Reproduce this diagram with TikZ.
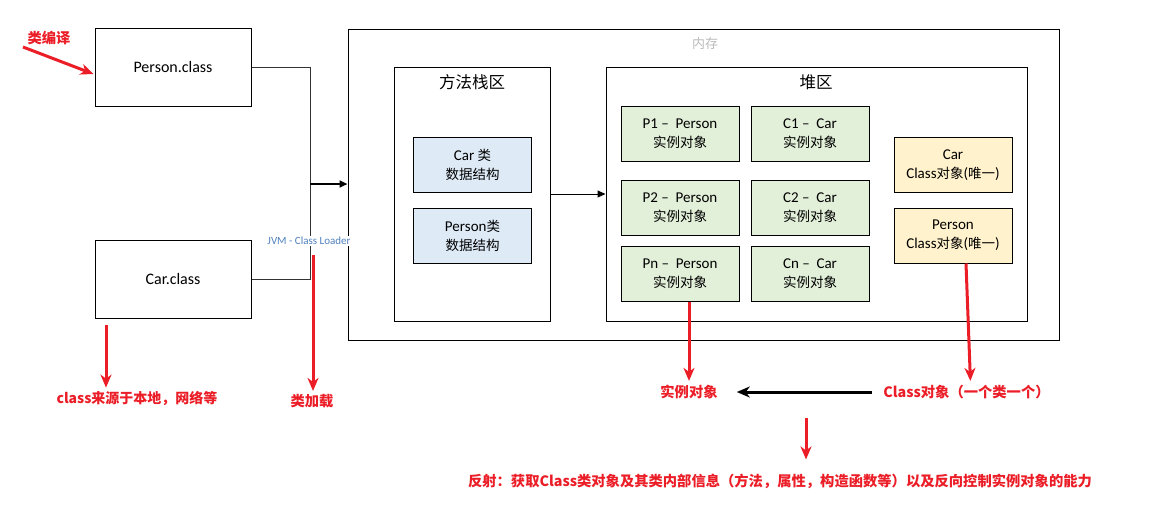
\documentclass[tikz,border=0pt]{standalone}
\usepackage{fontspec}
\setmainfont{Carlito}
\newfontfamily\cjk{Noto Sans CJK SC}
\newcommand\zh[1]{{\cjk\fontsize{13.5}{19}\selectfont #1}}
\usetikzlibrary{arrows.meta}
\definecolor{redc}{RGB}{235,30,40}
\definecolor{greenf}{RGB}{226,239,217}
\definecolor{bluef}{RGB}{222,235,247}
\definecolor{yellowf}{RGB}{255,242,204}
\definecolor{grayl}{RGB}{185,185,185}
\definecolor{jvmblue}{RGB}{79,129,189}
\tikzset{
  box/.style={draw=black, line width=1pt, inner sep=0pt, align=center},
  classfile/.style={box, minimum width=156pt, minimum height=78pt, font=\fontsize{16}{18}\selectfont},
  area/.style={box, minimum width=156pt, minimum height=254pt},
  small/.style={box, minimum width=118pt, minimum height=55pt, font=\fontsize{15}{19}\selectfont},
  inst/.style={small, fill=greenf},
  meta/.style={small, fill=bluef},
  clsobj/.style={small, fill=yellowf},
  title/.style={inner sep=0pt, font=\cjk\fontsize{16.5}{18}\selectfont},
  redtext/.style={inner sep=2pt, text=redc, font=\cjk\bfseries\fontsize{14.3}{16}\selectfont},
  redarrow/.style={draw=redc, line width=3pt, -{Stealth[length=13pt,width=11pt,inset=4pt]}},
  blackarrow/.style={draw=black, line width=3pt, -{Stealth[length=13pt,width=11pt,inset=4pt]}},
  conn/.style={draw=black!80, line width=1pt},
}
\begin{document}
\begin{tikzpicture}[x=1pt,y=-1pt]
\useasboundingbox (0,0) rectangle (1150,509);
% class files
\node[classfile] (person) at (173,67) {Person.class};
\node[classfile] (car) at (173,279) {Car.class};
% memory
\node[box, minimum width=711pt, minimum height=311pt] (mem) at (703.5,184.5) {};
\node[inner sep=0pt, text=grayl, font=\cjk\fontsize{13}{15}\selectfont] (memlbl) at (705,44) {内存};
% method area
\node[area] (meth) at (472,194) {};
\node[title] (methlbl) at (472,82) {方法栈区};
\node[meta] (carmeta) at (472.5,165) {Car \zh{类}\\\zh{数据结构}};
\node[meta] (permeta) at (472.5,235.5) {Person\zh{类}\\\zh{数据结构}};
% heap
\node[box, minimum width=421pt, minimum height=254pt] (heap) at (816.5,194) {};
\node[title] (heaplbl) at (816,82) {堆区};
\node[inst] (p1) at (680,133.5) {P1 – \ Person\\\zh{实例对象}};
\node[inst] (p2) at (680,207.5) {P2 – \ Person\\\zh{实例对象}};
\node[inst] (pn) at (680,274) {Pn – \ Person\\\zh{实例对象}};
\node[inst] (c1) at (810,133.5) {C1 – \ Car\\\zh{实例对象}};
\node[inst] (c2) at (810,207.5) {C2 – \ Car\\\zh{实例对象}};
\node[inst] (cn) at (810,274) {Cn – \ Car\\\zh{实例对象}};
\node[clsobj] (ccls) at (953,165) {Car\\Class\zh{对象}(\zh{唯一})};
\node[clsobj] (pcls) at (953,235.5) {Person\\Class\zh{对象}(\zh{唯一})};
% class loader connectors
\coordinate (jn) at (310,184);
\draw[conn] (person.east) -| (jn);
\draw[conn] (car.east) -| (jn);
\draw[line width=2pt, -{Triangle[length=8pt,width=7pt]}] (jn) -- (jn -| mem.west);
\node[fill=white, inner sep=1pt, text=jvmblue, font=\fontsize{11}{12}\selectfont] (jvm) at (309,241) {JVM - Class Loader};
\draw[line width=1pt, -{Triangle[length=8pt,width=7pt]}] (meth) -- (heap);
% red annotations
\node[redtext] (compile) at (49,38) {类编译};
\coordinate (a1s) at (23,47);
\draw[redarrow] (a1s) -- ([yshift=-7pt,xshift=-1pt]person.west);
\node[redtext, font=\cjk\bfseries\fontsize{14}{16}\selectfont] (source) at (137,398) {class来源于本地，网络等};
\coordinate (a2s) at (106,325);
\draw[redarrow, shorten >=1pt] (a2s) -- (source.north -| a2s);
\node[redtext] (load) at (312,401) {类加载};
\coordinate (a3s) at (313,255);
\draw[redarrow, shorten >=1pt] (a3s) -- (load.north -| a3s);
\node[redtext] (instobj) at (689,392) {实例对象};
\draw[redarrow, shorten >=2pt] ([xshift=9pt]pn.south) -- (instobj.north);
\node[redtext] (clsobjt) at (966.5,392) {Class对象（一个类一个）};
\draw[redarrow, shorten >=2pt] ([xshift=13pt]pcls.south) -- ([xshift=4pt]clsobjt.north);
\draw[blackarrow, shorten <=9pt, shorten >=17pt] (clsobjt.west) -- (instobj.east);
\node[redtext] (refl) at (780,481) {反射：获取Class类对象及其类内部信息（方法，属性，构造函数等）以及反向控制实例对象的能力};
\coordinate (a7s) at (806,418);
\draw[redarrow, shorten >=12pt] (a7s) -- (refl.north -| a7s);
\end{tikzpicture}
\end{document}
